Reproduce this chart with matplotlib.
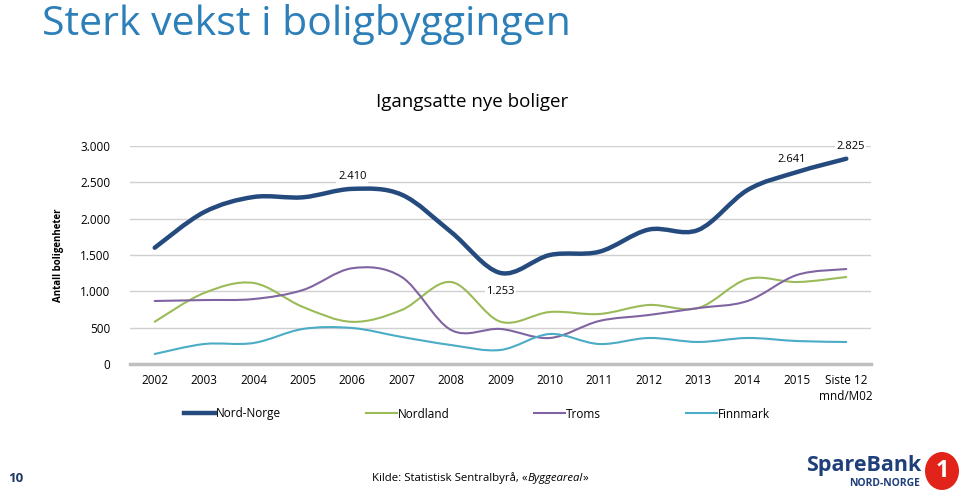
import numpy as np
import matplotlib.pyplot as plt
from matplotlib.path import Path
from matplotlib.patches import PathPatch, Ellipse
from matplotlib.lines import Line2D

plt.rcParams['font.family'] = ['Open Sans', 'DejaVu Sans']

years = ["2002", "2003", "2004", "2005", "2006", "2007", "2008", "2009",
         "2010", "2011", "2012", "2013", "2014", "2015", "Siste 12\nmnd/M02"]
nord_norge = [1600, 2090, 2298, 2294, 2410, 2330, 1816, 1253,
              1500, 1545, 1850, 1844, 2394, 2641, 2825]
nordland = [582, 977, 1115, 785, 580, 743, 1128, 582,
            716, 688, 812, 770, 1170, 1128, 1197]
troms = [867, 880, 894, 1018, 1318, 1197, 468, 482,
         358, 592, 674, 770, 867, 1225, 1307]
finnmark = [138, 275, 289, 482, 495, 372, 261, 193,
            413, 275, 358, 303, 358, 316, 303]

series = [("Nord-Norge", nord_norge, "#254B7E", 3.2),
          ("Nordland", nordland, "#9BBB59", 1.5),
          ("Troms", troms, "#8064A2", 1.5),
          ("Finnmark", finnmark, "#4BACC6", 1.5)]

labels = [(4, 2410, "2.410", 0, 9), (7, 1253, "1.253", 0, -13),
          (13, 2641, "2.641", -4, 9), (14, 2825, "2.825", 3, 9)]


def smooth_path(x, y):
    # Excel-like smoothed line: cubic bezier through every point
    pts = np.column_stack([x, y]).astype(float)
    ext = np.vstack([pts[0], pts, pts[-1]])
    verts = [pts[0]]
    codes = [Path.MOVETO]
    for i in range(len(pts) - 1):
        p0, p1, p2, p3 = ext[i], ext[i + 1], ext[i + 2], ext[i + 3]
        verts += [p1 + (p2 - p0) / 6, p2 - (p3 - p1) / 6, p2]
        codes += [Path.CURVE4] * 3
    return Path(verts, codes)


fig = plt.figure(figsize=(9.6, 4.91), dpi=100)
fig.patch.set_facecolor("white")
ax = fig.add_axes([130 / 960, 1 - 364 / 491, 741 / 960, 218 / 491])

xs = np.arange(len(years))
for name, vals, color, lw in series:
    ax.add_patch(PathPatch(smooth_path(xs, vals), fill=False, edgecolor=color,
                           lw=lw, capstyle="round", joinstyle="round", zorder=3))

ax.set_xlim(-0.5, len(years) - 0.5)
ax.set_ylim(0, 3000)
ax.set_yticks([0, 500, 1000, 1500, 2000, 2500, 3000])
ax.set_yticklabels(["0", "500", "1.000", "1.500", "2.000", "2.500", "3.000"])
ax.set_xticks(xs)
ax.set_xticklabels(years, va="top", linespacing=1.3)
ax.tick_params(axis="both", length=0, labelsize=8.5, colors="#000000")
ax.tick_params(axis="y", pad=14)
ax.tick_params(axis="x", pad=7)
for s in ["left", "right", "top"]:
    ax.spines[s].set_visible(False)
ax.spines["bottom"].set_color("#BFBFBF")
ax.spines["bottom"].set_linewidth(2.5)
ax.grid(axis="y", color="#D0D0D0", lw=1)
ax.set_axisbelow(True)
ax.set_ylabel("Antall boligenheter", fontsize=7, fontweight="bold", labelpad=12)

for xi, v, txt, dx, dy in labels:
    ax.annotate(txt, (xi, v), xytext=(dx, dy), textcoords="offset points",
                ha="center", va="center", fontsize=8, zorder=5,
                bbox=dict(boxstyle="square,pad=0.15", fc="white", ec="none"))

fig.text(472 / 960, 1 - 102 / 491, "Igangsatte nye boliger", fontsize=13.5,
         ha="center", va="center")

handles = [Line2D([], [], color=c, lw=lw) for _, _, c, lw in series]
fig.legend(handles, [s[0] for s in series], loc="center", ncol=4,
           bbox_to_anchor=(0.497, 1 - 414 / 491), frameon=False, fontsize=8.5,
           handlelength=2.6, handletextpad=0.1, columnspacing=7.2)

fig.text(42 / 960, 1 - 35 / 491, "Sterk vekst i boligbyggingen", fontsize=29.5,
         color="#2C7FB8", va="baseline", ha="left")

fig.text(8 / 960, 1 - 478 / 491, "10", fontsize=9.5, fontweight="bold",
         color="#1F3864", va="center")

# source line, pieces placed one after another
renderer = fig.canvas.get_renderer()
x0 = 372 / 960
for txt, st in [("Kilde: Statistisk Sentralbyrå, «", "normal"),
                ("Byggeareal", "italic"), ("»", "normal")]:
    t = fig.text(x0, 1 - 478 / 491, txt, fontsize=8.2, style=st,
                 va="center", ha="left")
    bb = t.get_window_extent(renderer)
    x0 = bb.x1 / fig.bbox.width

# logo
fig.text(921 / 960, 1 - 465 / 491, "SpareBank", fontsize=15.5, fontweight="bold",
         color="#1F3F7A", va="center", ha="right")
fig.text(920 / 960, 1 - 484 / 491, "NORD-NORGE", fontsize=7.5, fontweight="bold",
         color="#1F3F7A", va="center", ha="right")
fig.patches.append(Ellipse((942 / 960, 1 - 471 / 491), 34 / 960, 38 / 491,
                           transform=fig.transFigure, fc="#E2231A", ec="none"))
fig.text(942 / 960, 1 - 471 / 491, "1", fontsize=17, fontweight="bold",
         color="white", va="center", ha="center")

fig.savefig("out.png", dpi=100, facecolor="white")
